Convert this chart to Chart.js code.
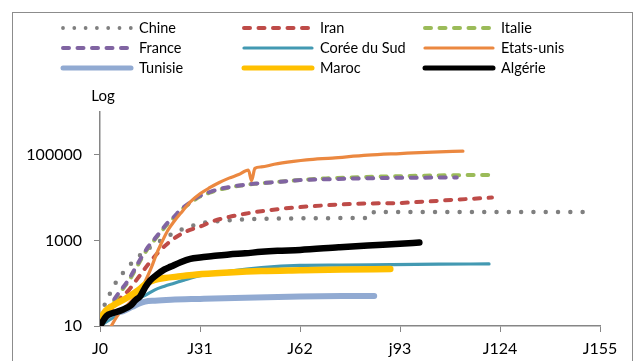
<!DOCTYPE html>
<html>
<head>
<meta charset="utf-8">
<script src="https://cdn.jsdelivr.net/npm/chart.js@4.4.0/dist/chart.umd.min.js"></script>
<style>
  html, body { margin: 0; padding: 0; background: #fff; }
  canvas { display: block; }
</style>
</head>
<body>
<canvas id="deces" width="637" height="361"></canvas>
<script>
// ---- Données : décès cumulés, en jours depuis J0 ----
const pays = ["Chine", "Iran", "Italie", "France", "Corée du Sud", "Etats-unis", "Tunisie", "Maroc", "Algérie"];

const chineJours = [0, 1, 2, 3, 4, 5, 6, 7, 8, 9, 10, 12, 14, 16, 18, 20, 22, 24, 26, 28, 30, 33, 36, 40, 45, 50, 55, 60, 70, 80, 84, 85, 100, 120, 140, 153];
const chineDeces = [17, 25, 41, 56, 80, 106, 132, 170, 213, 259, 304, 425, 563, 722, 908, 1113, 1380, 1665, 1868, 2118, 2345, 2663, 2788, 2943, 3099, 3173, 3231, 3259, 3308, 3335, 3345, 4632, 4633, 4634, 4634, 4634];

const iranJours = [0, 3, 6, 9, 12, 15, 18, 21, 24, 27, 31, 35, 40, 45, 50, 55, 62, 70, 80, 93, 100, 110, 121.5];
const iranDeces = [10, 20, 42, 70, 140, 280, 520, 850, 1250, 1650, 2100, 2800, 3550, 4200, 4800, 5350, 6000, 6600, 7200, 7500, 8000, 8900, 10000];

const italieJours = [0, 2, 4, 6, 9, 11, 13, 15, 17, 19, 21, 23, 25, 28, 31, 34, 37, 40, 44, 48, 54, 62, 70, 80, 93, 105, 121.5];
const italieDeces = [10, 20, 35, 58, 115, 210, 390, 680, 1050, 1600, 2450, 3400, 5000, 7500, 10600, 13000, 15300, 17200, 19200, 21000, 22800, 25800, 28000, 30000, 31700, 33000, 34000];

const franceJours = [0, 2, 4, 6, 9, 11, 13, 15, 17, 19, 21, 23, 25, 28, 31, 34, 37, 40, 44, 48, 54, 62, 70, 80, 93, 110.6];
const franceDeces = [11, 22, 38, 62, 125, 230, 420, 720, 1100, 1700, 2600, 3600, 5200, 7800, 11000, 13500, 15800, 17600, 19500, 21200, 22900, 25600, 26800, 28000, 29000, 29500];

const coreeJours = [0, 3, 6, 9, 12, 14, 17, 20, 23, 26, 31, 36, 41, 50, 62, 75, 90, 105, 120.6];
const coreeDeces = [10, 14, 20, 30, 44, 52, 70, 85, 100, 118, 150, 168, 195, 232, 260, 265, 272, 278, 282];

const usaJours = [0, 2, 3.5, 6, 9, 12, 14, 16, 17.5, 19, 21, 23, 25, 28, 31, 34, 37, 40, 43, 46, 47, 48, 50, 54, 60, 64, 72, 83, 93, 103, 112.5];
const usaDeces = [3, 6, 10, 20, 34, 60, 110, 240, 480, 850, 1700, 2800, 4300, 7900, 12300, 17000, 22500, 28500, 34500, 44000, 25000, 48000, 52000, 60000, 70000, 76000, 84000, 98000, 107000, 116000, 122000];

const tunisieJours = [0, 2, 4, 7, 10, 12, 14, 17, 22, 31, 45, 62, 75, 85];
const tunisieDeces = [11, 16, 20, 22, 28, 33, 37, 39, 41, 43, 46, 49, 50, 50];

const marocJours = [0, 1, 4, 8, 12, 14.5, 17, 20, 25, 30, 40, 50, 62, 75, 90];
const marocDeces = [12, 19, 30, 44, 70, 100, 120, 132, 145, 160, 178, 192, 200, 208, 215];

const algerieJours = [0, 2, 4, 7, 9.5, 11, 12.5, 14, 15.5, 17.5, 20, 22, 25, 28, 31, 35, 40, 45, 50, 55, 62, 74, 83, 93, 99];
const algerieDeces = [10, 17, 20, 24, 30, 40, 50, 80, 115, 155, 210, 245, 310, 370, 400, 430, 470, 500, 540, 570, 600, 690, 760, 830, 890];

// axes
const joursGraduation = [0, 31, 62, 93, 124, 155];
const etiquettesX = ["J0", "J31", "J62", "j93", "J124", "J155"];
const graduationsY = [10, 1000, 100000];

// ---- Styles des courbes ----
const gris = "#868686";
const styles = [
  { color: "#7F7F7F", width: 4.5, dash: [0, 12.3], legende: 3.8 },   // pointillés ronds
  { color: "#BE4B48", width: 4, dash: [6, 8.5] },
  { color: "#9BBB59", width: 4, dash: [6, 8.5] },
  { color: "#8064A2", width: 4, dash: [6, 8.5] },
  { color: "#4399B2", width: 3.2, dash: [] },
  { color: "#EB8840", width: 3.2, dash: [] },
  { color: "#91AAD2", width: 6, dash: [] },
  { color: "#FFC000", width: 6.5, dash: [] },
  { color: "#000000", width: 6.5, dash: [] },
];

const series = [
  [chineJours, chineDeces], [iranJours, iranDeces], [italieJours, italieDeces],
  [franceJours, franceDeces], [coreeJours, coreeDeces], [usaJours, usaDeces],
  [tunisieJours, tunisieDeces], [marocJours, marocDeces], [algerieJours, algerieDeces],
];

const datasets = series.map(([jours, deces], i) => ({
  label: pays[i],
  data: jours.map((j, k) => ({ x: j, y: deces[k] })),
  borderColor: styles[i].color,
  borderWidth: styles[i].width,
  borderDash: styles[i].dash,
  borderCapStyle: "round",
  borderJoinStyle: "round",
  cubicInterpolationMode: "monotone",
  pointRadius: 0,
  fill: false,
  order: series.length - i, // comme Excel : la dernière série passe au-dessus
}));

// légende sur 3 colonnes + cadre + titre "Log"
const habillage = {
  id: "habillage",
  afterDraw(chart) {
    const ctx = chart.ctx;
    ctx.save();
    ctx.strokeStyle = "#8C8C8C";
    ctx.lineWidth = 1;
    ctx.setLineDash([]);
    ctx.strokeRect(12.5, 12.5, 620, 400);

    ctx.font = "14.5px Lato";
    ctx.textBaseline = "middle";
    ctx.fillStyle = "#000";
    chart.data.datasets.forEach((ds, i) => {
      const x = 63 + (i % 3) * 181;
      const y = 28 + Math.floor(i / 3) * 20;
      ctx.strokeStyle = ds.borderColor;
      ctx.lineWidth = Math.min(styles[i].legende || ds.borderWidth, 5);
      ctx.lineCap = "round";
      ctx.setLineDash(i === 0 ? [0, 11.3] : ds.borderDash);
      ctx.beginPath();
      ctx.moveTo(x, y);
      ctx.lineTo(x + 68, y);
      ctx.stroke();
      ctx.fillText(ds.label, x + 76, y);
    });

    ctx.font = "15px Lato";
    ctx.textAlign = "center";
    ctx.fillText("Log", 103, 96);
    ctx.restore();
  },
};

new Chart(document.getElementById("deces").getContext("2d"), {
  type: "line",
  data: { datasets },
  plugins: [habillage],
  options: {
    responsive: false,
    animation: false,
    layout: { padding: { top: 112, right: 37, left: 0, bottom: 0 } },
    plugins: { legend: { display: false }, tooltip: { enabled: false } },
    scales: {
      x: {
        type: "linear",
        min: 0,
        max: 155,
        afterBuildTicks: (axe) => { axe.ticks = joursGraduation.map((v) => ({ value: v })); },
        afterFit: (axe) => { axe.height = 35; },
        ticks: {
          callback: (v) => etiquettesX[joursGraduation.indexOf(v)],
          font: { family: "Lato", size: 16 },
          color: "#000",
          padding: 7,
          maxRotation: 0,
        },
        grid: { drawOnChartArea: false, tickLength: 6, color: gris },
        border: { color: gris, width: 1.5 },
      },
      y: {
        type: "logarithmic",
        min: 10,
        max: 1000000,
        afterBuildTicks: (axe) => { axe.ticks = graduationsY.map((v) => ({ value: v })); },
        afterFit: (axe) => { axe.width = 100; },
        ticks: {
          callback: (v) => String(v),
          font: { family: "Lato", size: 16 },
          color: "#000",
          padding: 12,
        },
        grid: { drawOnChartArea: false, tickLength: 6, color: gris },
        border: { color: gris, width: 1.5 },
      },
    },
  },
});
</script>
</body>
</html>
